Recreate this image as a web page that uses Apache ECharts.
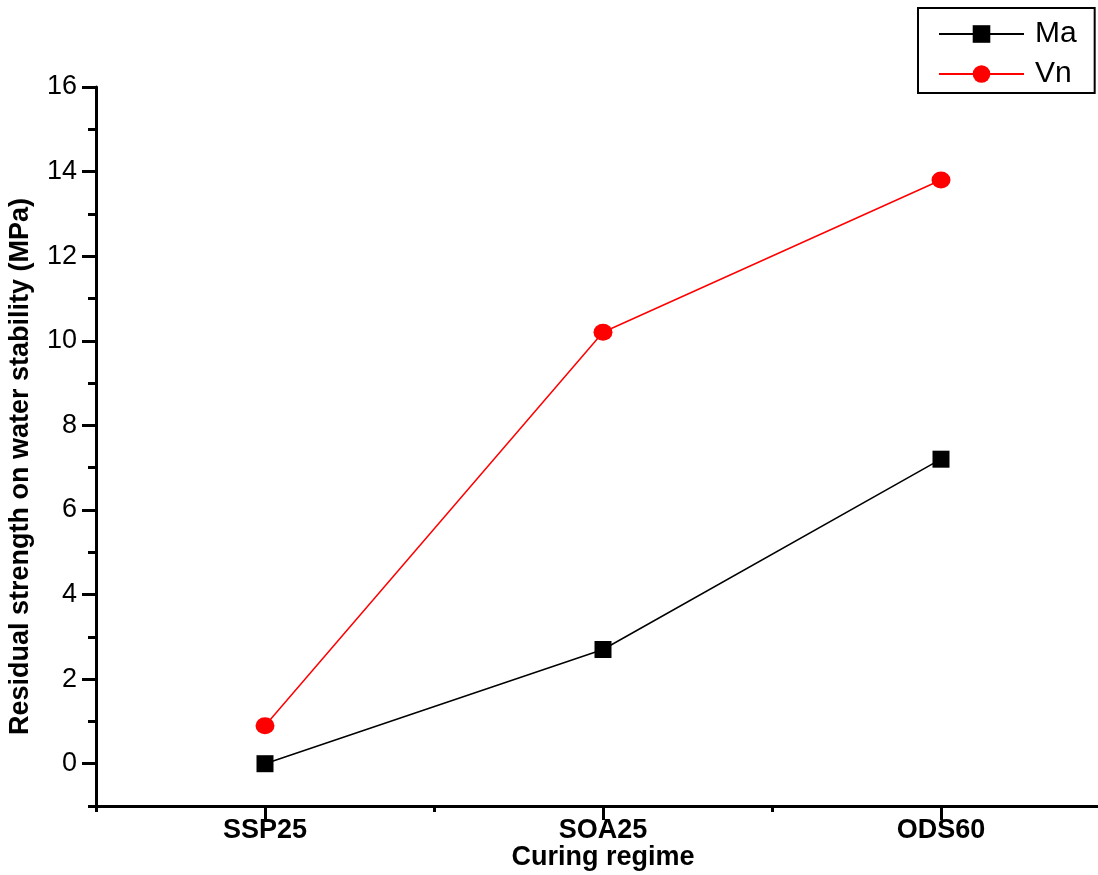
<!DOCTYPE html>
<html><head><meta charset="utf-8">
<script src="https://cdn.jsdelivr.net/npm/echarts@6/dist/echarts.min.js"></script>
<style>html,body{margin:0;padding:0;background:#fff}#c{width:1098px;height:875px}</style>
</head><body><div id="c"></div>
<script>
const categories = ['SSP25', 'SOA25', 'ODS60'];
const maValues = [0, 2.7, 7.2];
const vnValues = [0.9, 10.2, 13.8];
const yMajorTicks = [0, 2, 4, 6, 8, 10, 12, 14, 16];
const yMinorTicks = [-1, 1, 3, 5, 7, 9, 11, 13, 15];
const yMin = -1, yMax = 16;

const FONT = "'Liberation Sans', Arial, sans-serif";
const chart = echarts.init(document.getElementById('c'), null, {renderer: 'canvas'});
const axisLineStyle = {color: '#000', width: 3};
chart.setOption({
  animation: false,
  backgroundColor: '#fff',
  grid: {left: 96, top: 87, right: -12, bottom: 69, containLabel: false, outerBoundsMode: 'none'},
  legend: {
    left: 918, top: 8, orient: 'vertical',
    padding: [11, 18, 4, 20],
    borderColor: '#000', borderWidth: 2,
    itemWidth: 85, itemHeight: 22, itemGap: 10,
    textStyle: {fontFamily: FONT, fontSize: 30, color: '#000', padding: [0, 0, 0, 6]},
    data: ['Ma', 'Vn']
  },
  xAxis: [
    {
      type: 'category', data: categories, boundaryGap: true, position: 'bottom',
      axisLine: {show: true, onZero: false, lineStyle: axisLineStyle},
      axisTick: {show: true, alignWithLabel: false, length: 6, lineStyle: {color: '#000', width: 3}},
      axisLabel: {show: false},
      splitLine: {show: false}
    },
    {
      type: 'category', data: categories, boundaryGap: true, position: 'bottom',
      axisLine: {show: false, onZero: false},
      axisTick: {show: true, alignWithLabel: true, length: 14, lineStyle: {color: '#000', width: 3}},
      axisLabel: {show: true, margin: 11, fontFamily: FONT, fontSize: 27, fontWeight: 'bold', color: '#000'},
      splitLine: {show: false},
      name: 'Curing regime', nameLocation: 'middle', nameGap: 38, nameMoveOverlap: false,
      nameTextStyle: {fontFamily: FONT, fontSize: 27, fontWeight: 'bold', color: '#000'}
    }
  ],
  yAxis: [
    {
      type: 'value', min: yMin, max: yMax, position: 'left',
      axisLine: {show: true, lineStyle: axisLineStyle},
      axisTick: {show: true, customValues: yMajorTicks, length: 14, lineStyle: {color: '#000', width: 3}},
      axisLabel: {show: true, customValues: yMajorTicks, margin: 19, fontFamily: FONT, fontSize: 27, color: '#000'},
      splitLine: {show: false},
      name: 'Residual strength on water stability (MPa)', nameLocation: 'middle', nameGap: 62,
      nameTextStyle: {fontFamily: FONT, fontSize: 27, fontWeight: 'bold', color: '#000', padding: [0, 40, 0, 0]}
    },
    {
      type: 'value', min: yMin, max: yMax, position: 'left',
      axisLine: {show: false},
      axisTick: {show: true, customValues: yMinorTicks, length: 8, lineStyle: {color: '#000', width: 3}},
      axisLabel: {show: false, customValues: yMinorTicks},
      splitLine: {show: false}
    }
  ],
  series: [
    {
      name: 'Ma', type: 'line', data: maValues, xAxisIndex: 0, yAxisIndex: 0,
      symbol: 'rect', symbolSize: 17,
      lineStyle: {color: '#000', width: 1.5},
      itemStyle: {color: '#000'}
    },
    {
      name: 'Vn', type: 'line', data: vnValues, xAxisIndex: 0, yAxisIndex: 0,
      symbol: 'circle', symbolSize: [19, 17],
      lineStyle: {color: '#ff0000', width: 1.5},
      itemStyle: {color: '#ff0000'}
    }
  ]
});
</script></body></html>
